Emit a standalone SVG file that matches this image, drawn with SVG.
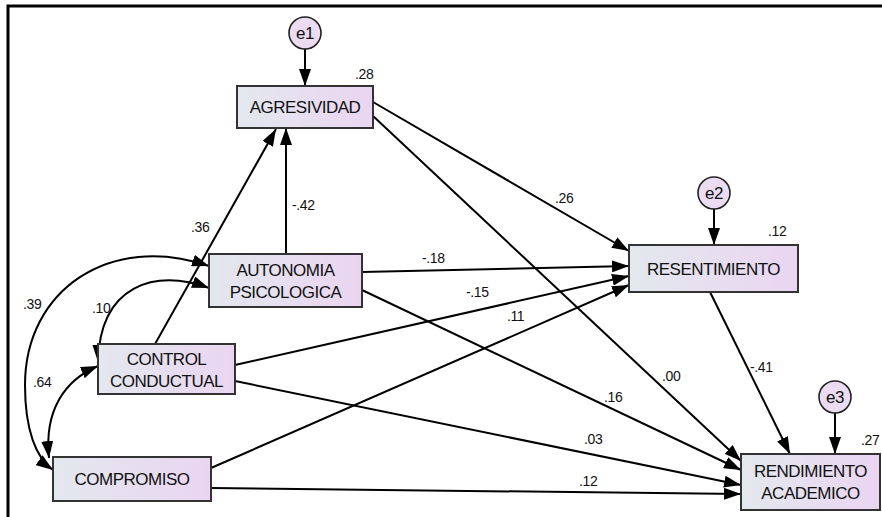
<svg xmlns="http://www.w3.org/2000/svg" width="882" height="517" viewBox="0 0 882 517">
<defs>
<linearGradient id="g" x1="0" y1="0" x2="1" y2="0">
<stop offset="0" stop-color="#e3e8ee"/>
<stop offset="1" stop-color="#ead5f1"/>
</linearGradient>
<marker id="ah" viewBox="0 0 17 12" refX="17" refY="6" markerWidth="17" markerHeight="12" markerUnits="userSpaceOnUse" orient="auto-start-reverse">
<path d="M0,0 L17,6 L0,12 Z" fill="#000"/>
</marker>
<style>
.box{fill:url(#g);stroke:#333;stroke-width:2}
.err{fill:#ecdcf2;stroke:#222;stroke-width:1.6}
.t{font-family:"Liberation Sans",Arial,sans-serif;font-size:17px;letter-spacing:-0.5px;fill:#111;text-anchor:middle}
.w{font-family:"Liberation Sans",Arial,sans-serif;font-size:14px;letter-spacing:-0.4px;fill:#111}
.e{fill:none;stroke:#000;stroke-width:2;marker-end:url(#ah)}
.c{fill:none;stroke:#000;stroke-width:2;marker-start:url(#ah);marker-end:url(#ah)}
</style>
</defs>
<rect x="0" y="0" width="882" height="517" fill="#fff"/>
<path d="M8,517 L8,6 L882,6" fill="none" stroke="#000" stroke-width="3"/>
<g id="connectors">
<line class="e" x1="305" y1="49" x2="305" y2="86"/>
<line class="e" x1="714" y1="209" x2="714" y2="245"/>
<line class="e" x1="835" y1="413" x2="835" y2="454"/>
<line class="e" x1="286" y1="254" x2="286" y2="128"/>
<line class="e" x1="155" y1="344" x2="276" y2="129"/>
<line class="e" x1="373" y1="102" x2="629" y2="251"/>
<line class="e" x1="373" y1="116" x2="741" y2="461"/>
<line class="e" x1="362" y1="272" x2="629" y2="266"/>
<line class="e" x1="362" y1="290" x2="741" y2="470"/>
<line class="e" x1="235" y1="365" x2="629" y2="276"/>
<line class="e" x1="235" y1="381" x2="741" y2="485"/>
<line class="e" x1="211" y1="468" x2="629" y2="285"/>
<line class="e" x1="211" y1="488" x2="741" y2="494"/>
<line class="e" x1="710" y1="292" x2="790" y2="454"/>
<path class="c" d="M209,266 C110,232 25,290 25,385 C25,430 36,458 53,470"/>
<path class="c" d="M209,288 C155,268 100,285 98,362"/>
<path class="c" d="M49,458 C44,410 65,380 98,366"/>
<text class="w" x="355" y="79">.28</text>
<text class="w" x="768" y="236">.12</text>
<text class="w" x="861" y="445">.27</text>
<text class="w" x="292" y="210">-.42</text>
<text class="w" x="191" y="232">.36</text>
<text class="w" x="555" y="203">.26</text>
<text class="w" x="662" y="381">.00</text>
<text class="w" x="422" y="263">-.18</text>
<text class="w" x="604" y="402">.16</text>
<text class="w" x="466" y="297">-.15</text>
<text class="w" x="584" y="444">.03</text>
<text class="w" x="507" y="321">.11</text>
<text class="w" x="579" y="486">.12</text>
<text class="w" x="750" y="372">-.41</text>
<text class="w" x="23" y="309">.39</text>
<text class="w" x="92" y="313">.10</text>
<text class="w" x="33" y="387">.64</text>
</g>
<g id="e1"><circle class="err" cx="305" cy="33" r="16"/><text class="t" x="305" y="39">e1</text></g>
<g id="e2"><circle class="err" cx="714" cy="193" r="16"/><text class="t" x="714" y="199">e2</text></g>
<g id="e3"><circle class="err" cx="835" cy="397" r="16"/><text class="t" x="835" y="403">e3</text></g>
<g id="agresividad"><rect class="box" x="237" y="86" width="136" height="42"/><text class="t" x="305" y="113">AGRESIVIDAD</text></g>
<g id="autonomia"><rect class="box" x="209" y="254" width="153" height="53"/><text class="t" x="285.5" y="276">AUTONOMIA</text><text class="t" x="285.5" y="298">PSICOLOGICA</text></g>
<g id="control"><rect class="box" x="98" y="344" width="137" height="50"/><text class="t" x="166.5" y="365">CONTROL</text><text class="t" x="166.5" y="387">CONDUCTUAL</text></g>
<g id="compromiso"><rect class="box" x="53" y="457" width="158" height="44"/><text class="t" x="132" y="485">COMPROMISO</text></g>
<g id="resentimiento"><rect class="box" x="629" y="245" width="169" height="47"/><text class="t" x="713.5" y="275">RESENTIMIENTO</text></g>
<g id="rendimiento"><rect class="box" x="741" y="454" width="139" height="56"/><text class="t" x="810.5" y="477">RENDIMIENTO</text><text class="t" x="810.5" y="499">ACADEMICO</text></g>
</svg>
